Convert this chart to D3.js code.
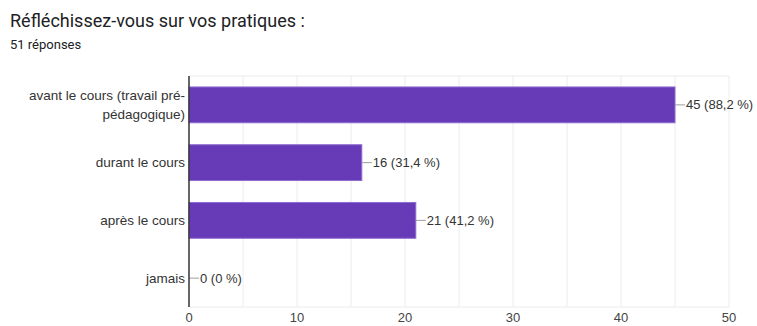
<!DOCTYPE html>
<html>
<head>
<meta charset="utf-8">
<script src="https://cdn.jsdelivr.net/npm/d3@7"></script>
<style>
  body { margin: 0; background: #fff; }
  text { font-family: "Liberation Sans", Arial, sans-serif; }
  .head { font-family: Roboto, "Noto Sans", sans-serif; }
</style>
</head>
<body>
<div id="chart"></div>
<script>
// Data
var categories = ["avant le cours (travail pré-|pédagogique)", "durant le cours", "après le cours", "jamais"];
var counts = [45, 16, 21, 0];
var percents = ["88,2 %", "31,4 %", "41,2 %", "0 %"];
var xTicks = [0, 10, 20, 30, 40, 50];
var gridTicks = [5, 10, 15, 20, 25, 30, 35, 40, 45, 50];

var width = 757, height = 326;
var margin = { top: 76, left: 189, right: 28, bottom: 19 };

var svg = d3.select('#chart')
    .append('svg')
    .attr('width', width)
    .attr('height', height);

// Title
svg.append('text')
    .attr('class', 'head')
    .attr('x', 10).attr('y', 27)
    .style('font-size', '18px')
    .style('fill', '#202124')
    .text('Réfléchissez-vous sur vos pratiques :');

svg.append('text')
    .attr('class', 'head')
    .attr('x', 10).attr('y', 49)
    .style('font-size', '13px')
    .style('fill', '#202124')
    .text('51 réponses');

var x = d3.scaleLinear()
    .domain([0, 50])
    .range([margin.left, width - margin.right]);

var y = d3.scaleBand()
    .domain(categories)
    .range([margin.top, height - margin.bottom])
    .paddingInner(0.38)
    .paddingOuter(0.19);

// Gridlines
svg.append('g')
    .selectAll('line')
    .data(gridTicks)
    .enter().append('line')
    .attr('x1', d => x(d)).attr('x2', d => x(d))
    .attr('y1', margin.top).attr('y2', height - margin.bottom)
    .attr('stroke', '#ececec').attr('stroke-width', 1);

svg.append('line')
    .attr('x1', x(0)).attr('x2', x(50))
    .attr('y1', margin.top).attr('y2', margin.top)
    .attr('stroke', '#ececec');
svg.append('line')
    .attr('x1', x(0)).attr('x2', x(50))
    .attr('y1', height - margin.bottom).attr('y2', height - margin.bottom)
    .attr('stroke', '#ececec');

// Bars
svg.append('g')
    .selectAll('rect')
    .data(counts)
    .enter().append('rect')
    .attr('x', x(0))
    .attr('y', (d, i) => y(categories[i]))
    .attr('width', d => x(d) - x(0))
    .attr('height', y.bandwidth())
    .attr('fill', '#673ab7')
    .attr('stroke', d => d > 0 ? '#8e6cd0' : 'none')
    .attr('stroke-width', 1);

// Value labels with leader lines
var vl = svg.append('g')
    .selectAll('g')
    .data(counts)
    .enter().append('g')
    .attr('transform', (d, i) => 'translate(' + x(d) + ',' + (y(categories[i]) + y.bandwidth() / 2) + ')');

vl.append('line')
    .attr('x1', 0).attr('x2', 10)
    .attr('stroke', '#9e9e9e').attr('stroke-width', 1);

vl.append('text')
    .attr('x', 11).attr('dy', '0.35em')
    .style('font-size', '13px')
    .style('fill', '#333')
    .text((d, i) => d + ' (' + percents[i] + ')');

// Category labels
var cl = svg.append('g')
    .selectAll('text')
    .data(categories)
    .enter().append('text')
    .attr('x', x(0) - 4)
    .attr('y', d => y(d) + y.bandwidth() / 2)
    .attr('text-anchor', 'end')
    .style('font-size', '13.5px')
    .style('fill', '#333');

cl.each(function(d) {
    var lines = d.split('|');
    var t = d3.select(this);
    lines.forEach(function(s, j) {
        t.append('tspan')
            .attr('x', x(0) - 4)
            .attr('dy', j === 0 ? (0.35 - (lines.length - 1) * 0.7) + 'em' : '1.4em')
            .text(s);
    });
});

// Zero axis line
svg.append('line')
    .attr('x1', x(0)).attr('x2', x(0))
    .attr('y1', margin.top).attr('y2', height - margin.bottom)
    .attr('stroke', '#333').attr('stroke-width', 1.5);

// X tick labels
svg.append('g')
    .selectAll('text')
    .data(xTicks)
    .enter().append('text')
    .attr('x', d => x(d))
    .attr('y', height - margin.bottom + 15)
    .attr('text-anchor', 'middle')
    .style('font-size', '13px')
    .style('fill', '#444')
    .text(d => d);
</script>
</body>
</html>
